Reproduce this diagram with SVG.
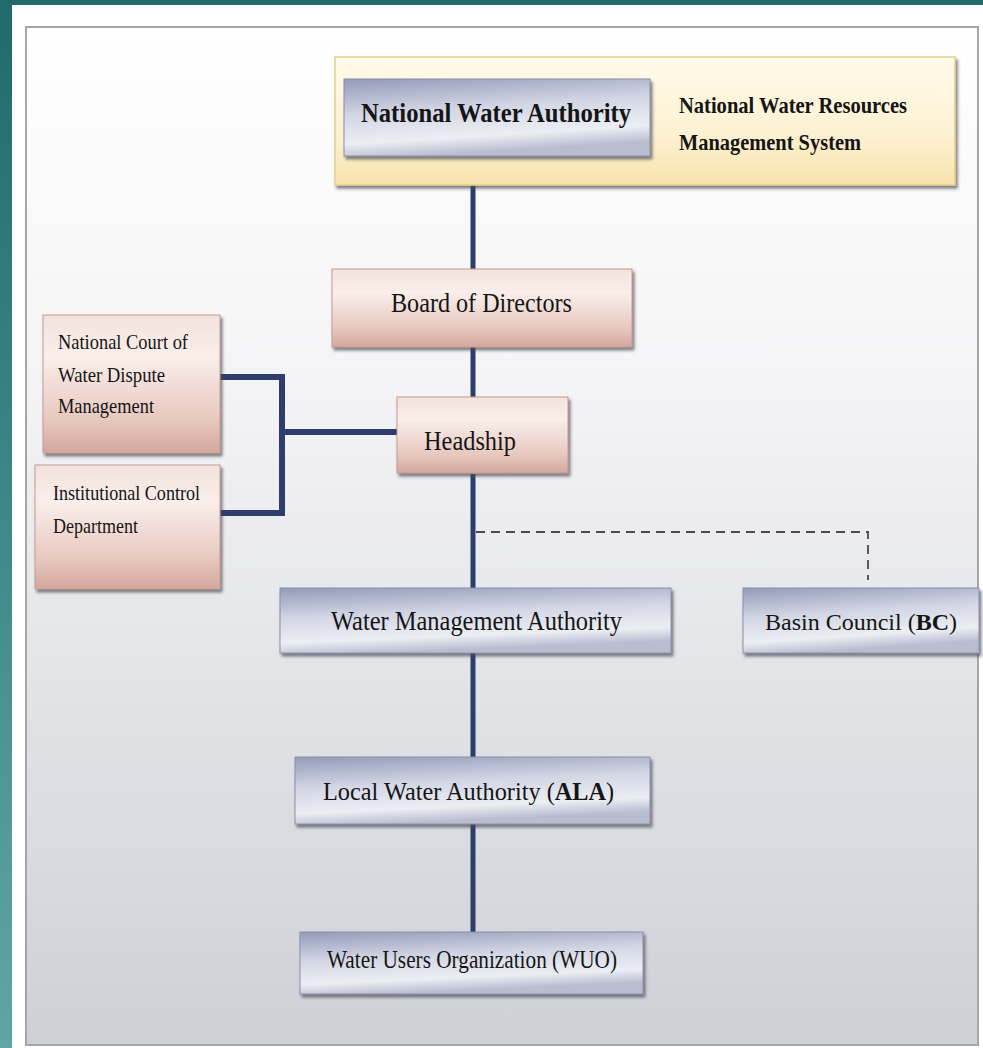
<svg xmlns="http://www.w3.org/2000/svg" width="983" height="1048" viewBox="0 0 983 1048">
<defs>
<linearGradient id="teal" x1="0" y1="0" x2="0" y2="1"><stop offset="0" stop-color="#216a6c"/><stop offset="1" stop-color="#5fa6a3"/></linearGradient>
<linearGradient id="panel" x1="0" y1="0" x2="0" y2="1"><stop offset="0" stop-color="#ffffff"/><stop offset="0.35" stop-color="#f4f4f6"/><stop offset="1" stop-color="#cdd0d6"/></linearGradient>
<linearGradient id="yellow" x1="0" y1="0" x2="0" y2="1"><stop offset="0" stop-color="#fffaea"/><stop offset="0.6" stop-color="#fdf1d2"/><stop offset="1" stop-color="#f8e3ad"/></linearGradient>
<linearGradient id="blue" x1="0" y1="0" x2="0.25" y2="1"><stop offset="0" stop-color="#939bba"/><stop offset="0.45" stop-color="#d3d6e4"/><stop offset="0.8" stop-color="#eceef4"/><stop offset="1" stop-color="#b9bdd0"/></linearGradient>
<linearGradient id="pink" x1="0" y1="0" x2="0" y2="1"><stop offset="0" stop-color="#f3e2dd"/><stop offset="0.3" stop-color="#f9eeea"/><stop offset="0.75" stop-color="#e8c9c0"/><stop offset="1" stop-color="#d3a79c"/></linearGradient>
<filter id="sh" x="-10%" y="-10%" width="120%" height="130%"><feDropShadow dx="2" dy="3" stdDeviation="1.5" flood-color="#4a4a55" flood-opacity="0.7"/></filter>
<style>
.t{font-family:"Liberation Serif","Times New Roman",serif;fill:#151515}
.m{font-size:28px}
.s{font-size:22px}
.b{font-weight:bold}
.con{stroke:#2d3d6c;stroke-width:5;fill:none}
.dash{stroke:#4a4a4a;stroke-width:1.8;fill:none;stroke-dasharray:9 6}
.bl{fill:url(#blue);stroke:#8a90a8;stroke-width:1;filter:url(#sh)}
.pk{fill:url(#pink);stroke:#c69a90;stroke-width:1;filter:url(#sh)}
</style>
</defs>
<rect x="0" y="0" width="983" height="1048" fill="#ffffff"/>
<rect x="0" y="0" width="983" height="5" fill="#226b6d"/>
<rect x="0" y="0" width="12" height="1048" fill="url(#teal)"/>
<rect x="26" y="27" width="952" height="1018" fill="url(#panel)" stroke="#a6a6a8" stroke-width="2"/>

<g id="connectors">
<line class="con" x1="473" y1="185" x2="473" y2="270"/>
<line class="con" x1="473" y1="347" x2="473" y2="397"/>
<line class="con" x1="473" y1="474" x2="473" y2="588"/>
<line class="con" x1="473" y1="653" x2="473" y2="757"/>
<line class="con" x1="473" y1="824" x2="473" y2="932"/>
<polyline class="con" style="stroke-width:6" points="220,377 282,377 282,513 220,513"/>
<line class="con" style="stroke-width:6" x1="282" y1="432" x2="397" y2="432"/>
<polyline class="dash" points="476,532 868,532 868,580"/>
</g>

<g id="nwrms">
<rect x="335" y="57" width="620" height="128" fill="url(#yellow)" stroke="#e3d18a" stroke-width="1.5" filter="url(#sh)"/>
<text class="t b" x="679" y="113" font-size="24" textLength="228" lengthAdjust="spacingAndGlyphs">National Water Resources</text>
<text class="t b" x="679" y="150" font-size="24" textLength="182" lengthAdjust="spacingAndGlyphs">Management System</text>
</g>
<g id="nwa">
<rect class="bl" x="344" y="79" width="306" height="77"/>
<text class="t m b" x="361" y="122" textLength="270" lengthAdjust="spacingAndGlyphs">National Water Authority</text>
</g>
<g id="board">
<rect class="pk" x="332" y="269" width="300" height="78"/>
<text class="t m" x="391" y="312" textLength="181" lengthAdjust="spacingAndGlyphs">Board of Directors</text>
</g>
<g id="headship">
<rect class="pk" x="397" y="397" width="171" height="76"/>
<text class="t m" x="424" y="450" textLength="92" lengthAdjust="spacingAndGlyphs">Headship</text>
</g>
<g id="court">
<rect class="pk" x="43" y="315" width="177" height="138"/>
<text class="t s" x="58" y="349" textLength="130" lengthAdjust="spacingAndGlyphs">National Court of</text>
<text class="t s" x="58" y="382" textLength="107" lengthAdjust="spacingAndGlyphs">Water Dispute</text>
<text class="t s" x="58" y="413" textLength="96" lengthAdjust="spacingAndGlyphs">Management</text>
</g>
<g id="icd">
<rect class="pk" x="35" y="465" width="185" height="124"/>
<text class="t s" x="53" y="500" textLength="147" lengthAdjust="spacingAndGlyphs">Institutional Control</text>
<text class="t s" x="53" y="533" textLength="85" lengthAdjust="spacingAndGlyphs">Department</text>
</g>
<g id="wma">
<rect class="bl" x="280" y="588" width="391" height="65"/>
<text class="t m" x="331" y="630" textLength="291" lengthAdjust="spacingAndGlyphs">Water Management Authority</text>
</g>
<g id="bc">
<rect class="bl" x="743" y="588" width="236" height="65"/>
<text class="t" font-size="24" x="765" y="630">Basin Council (<tspan class="b">BC</tspan>)</text>
</g>
<g id="ala">
<rect class="bl" x="295" y="757" width="355" height="67"/>
<text class="t" font-size="24.3" x="323" y="800">Local Water Authority (<tspan class="b">ALA</tspan>)</text>
</g>
<g id="wuo">
<rect class="bl" x="300" y="932" width="343" height="62"/>
<text class="t" font-size="25" x="327" y="968" textLength="290" lengthAdjust="spacingAndGlyphs">Water Users Organization (WUO)</text>
</g>
</svg>
